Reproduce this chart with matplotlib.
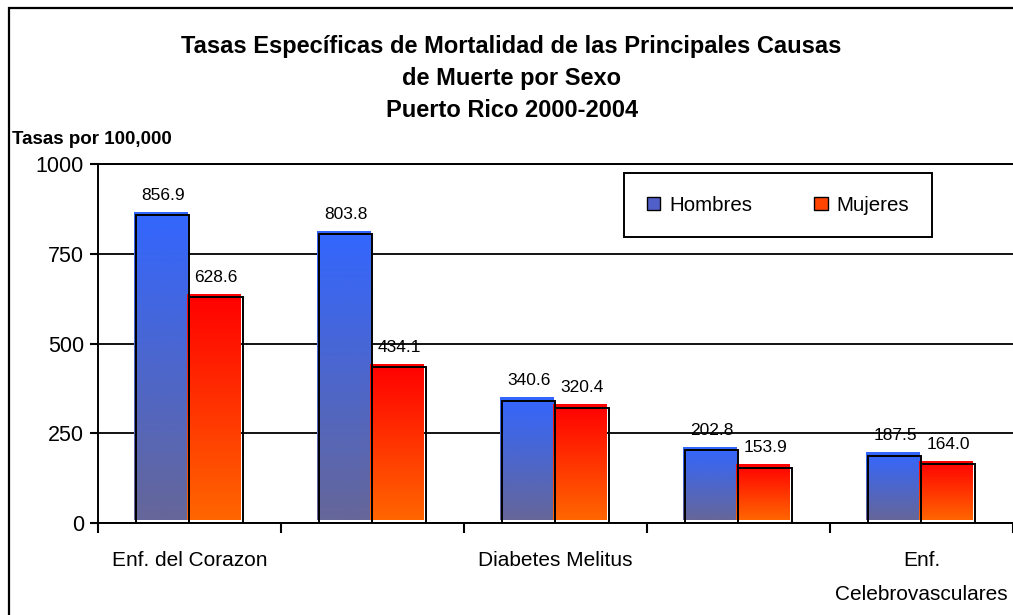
import matplotlib
matplotlib.use('Agg')
import matplotlib.pyplot as plt
import numpy as np
from matplotlib.colors import LinearSegmentedColormap
from matplotlib.patches import Patch, Rectangle
from matplotlib.transforms import offset_copy

plt.rcParams['font.family'] = ['Liberation Sans', 'DejaVu Sans']

# data
tick_labels = ['Enf. del Corazon', '', 'Diabetes Melitus', '', 'Enf.\nCelebrovasculares']
series = ['Hombres', 'Mujeres']
hombres = [856.9, 803.8, 340.6, 202.8, 187.5]
mujeres = [628.6, 434.1, 320.4, 153.9, 164.0]

fig = plt.figure(figsize=(10.13, 6.15), dpi=100)
ax = fig.add_axes([0.0967, 0.1496, 0.9033, 0.5837])

x = np.arange(len(hombres))
w = 0.29
grad = np.linspace(0, 1, 256).reshape(-1, 1)
# Excel draws the fill a couple of pixels up/left of the outline
fill_shift = offset_copy(ax.transData, fig=fig, x=-2, y=3, units='dots')

styles = [(hombres, -w / 2, ('#666699', '#3366FF')),
          (mujeres, w / 2, ('#FF6600', '#FF0000'))]
for (vals, off, cols), name in zip(styles, series):
    cmap = LinearSegmentedColormap.from_list(name, cols)
    bars = ax.bar(x + off, vals, w, facecolor='none', edgecolor='black',
                  lw=1.4, zorder=4)
    for b, v in zip(bars, vals):
        im = ax.imshow(grad, cmap=cmap, origin='lower', aspect='auto',
                       extent=(b.get_x(), b.get_x() + w, 0, v), zorder=3)
        im.set_transform(fill_shift)
    ax.bar_label(bars, labels=[f'{v:.1f}' for v in vals], padding=9,
                 fontsize=12.5)

ax.set_xlim(-0.5, 4.5)
ax.set_ylim(0, 1000)
ax.set_yticks([0, 250, 500, 750, 1000])
ax.set_xticks(x)
ax.set_xticklabels(tick_labels, fontsize=15)
for lab in ax.get_xticklabels():
    lab.set_linespacing(2.0)
ax.set_xticks(np.arange(-0.5, 5, 1), minor=True)
ax.tick_params(axis='x', which='major', length=0, pad=20)
ax.tick_params(axis='x', which='minor', length=7, width=1.5, direction='out')
ax.tick_params(axis='y', length=6, width=1.5, pad=4, labelsize=15.5)
ax.yaxis.grid(True, color='black', lw=1.3)
ax.set_axisbelow(True)
ax.spines['right'].set_visible(False)
for s in ['left', 'bottom', 'top']:
    ax.spines[s].set_linewidth(1.4)

handles = [Patch(facecolor='#5060C8', edgecolor='black'),
           Patch(facecolor='#FF4400', edgecolor='black')]
leg = ax.legend(handles, series, loc='upper right', bbox_to_anchor=(0.9115, 0.975),
                ncol=2, fontsize=14.8, fancybox=False, framealpha=1, edgecolor='black',
                borderpad=1.1, columnspacing=3.0, handlelength=0.65, handleheight=0.65,
                handletextpad=0.45, borderaxespad=0)
leg.get_frame().set_linewidth(1.4)

fig.text(0.505, 1 - 35 / 615,
         'Tasas Específicas de Mortalidad de las Principales Causas\nde Muerte por Sexo\nPuerto Rico 2000-2004',
         ha='center', va='top', fontsize=17, fontweight='bold', linespacing=1.5)
fig.text(12 / 1013, 1 - 140 / 615, 'Tasas por 100,000', fontsize=13.5,
         fontweight='bold', va='center')

# outer chart border
fig.add_artist(Rectangle((9 / 1013, -0.1), 1.2, 1 - 8 / 615 + 0.1,
                         transform=fig.transFigure, fill=False,
                         edgecolor='black', lw=1.6))

fig.savefig('out.png', dpi=100)
